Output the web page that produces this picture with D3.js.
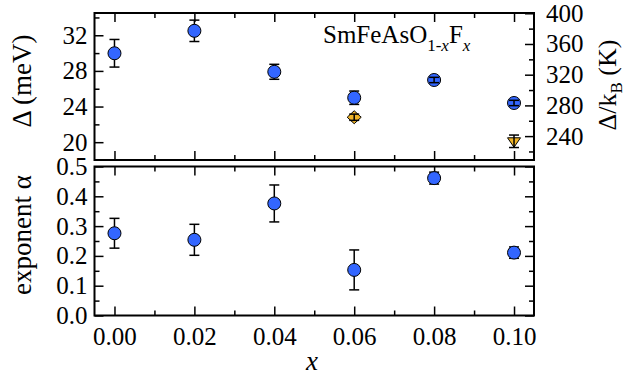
<!DOCTYPE html>
<html>
<head>
<meta charset="utf-8">
<script src="https://cdn.jsdelivr.net/npm/d3@7"></script>
<style>
  body { margin: 0; background: #fff; }
  svg text { font-family: "Liberation Serif", "Times New Roman", Times, serif !important; }
</style>
</head>
<body>
<svg id="chart" width="631" height="378"></svg>
<script>
// gap values (meV), first group: error bars behind markers
const gapX = [0, 0.02, 0.04, 0.06]
const gapMeV = [29.98, 32.5, 27.9, 24.99]
const gapErr = [1.55, 1.2, 0.84, 0.75]
// second group: error bars drawn over markers
const gap2X = [0.08, 0.10]
const gap2MeV = [26.98, 24.4]
const gap2Err = [0.3, 0.3]
// orange points
const diamondX = [0.06]
const diamondMeV = [22.8]
const diamondErr = [0.35]
const triX = [0.10]
const triMeV = [20.1]
const triErr = [0.7]
// exponent alpha
const alphaX = [0, 0.02, 0.04, 0.06, 0.08, 0.10]
const alpha = [0.276, 0.254, 0.376, 0.153, 0.461, 0.211]
const alphaErr = [0.05, 0.052, 0.062, 0.067, 0.02, 0.019]

const xMajor = [0, 0.02, 0.04, 0.06, 0.08, 0.10]
const xMinor = [0.01, 0.03, 0.05, 0.07, 0.09]
const meVMajor = [20, 24, 28, 32]
const meVMinor = [22, 26, 30, 34]
const kMajor = [240, 280, 320, 360, 400]
const kMinor = [220, 260, 300, 340, 380]
const alphaMajor = [0, 0.1, 0.2, 0.3, 0.4, 0.5]
const alphaMinor = [0.05, 0.15, 0.25, 0.35, 0.45]

const meVtoK = 11.6045
const BLUE = '#3366ff'
const GOLD = '#f0b428'
const MAJ = 9, MIN = 5
const FONT = '"Liberation Serif", "Times New Roman", serif'

const svg = d3.select('#chart').attr('font-family', FONT)
const left = 94.5, right = 534
const topT = 13, botT = 160
const topB = 166.5, botB = 315.5

const x = d3.scaleLinear().domain([-0.005, 0.105]).range([left, right])
const yT = d3.scaleLinear().domain([18, 34.5]).range([botT, topT])
const yK = d3.scaleLinear().domain([18 * meVtoK, 34.5 * meVtoK]).range([botT, topT])
const yB = d3.scaleLinear().domain([0, 0.5]).range([botB, topB])

function drawAxis(axis, tx, ty) {
  const g = svg.append('g')
    .attr('transform', 'translate(' + tx + ',' + ty + ')')
    .call(axis)
  g.select('.domain').remove()
  g.attr('font-family', FONT).attr('font-size', 25)
  g.selectAll('.tick line').attr('stroke-width', 1.5)
  g.selectAll('.tick text').attr('fill', '#000')
  return g
}
const none = () => ''

// top panel axes
drawAxis(d3.axisBottom(x).tickValues(xMajor).tickSize(-MAJ).tickFormat(none), 0, botT)
drawAxis(d3.axisBottom(x).tickValues(xMinor).tickSize(-MIN).tickFormat(none), 0, botT)
drawAxis(d3.axisTop(x).tickValues(xMajor).tickSize(-MAJ).tickFormat(none), 0, topT)
drawAxis(d3.axisTop(x).tickValues(xMinor).tickSize(-MIN).tickFormat(none), 0, topT)
drawAxis(d3.axisLeft(yT).tickValues(meVMajor).tickSize(-MAJ).tickPadding(7).tickFormat(d3.format('d')), left, 0)
drawAxis(d3.axisLeft(yT).tickValues(meVMinor).tickSize(-MIN).tickFormat(none), left, 0)
drawAxis(d3.axisRight(yK).tickValues(kMajor).tickSize(-MAJ).tickPadding(12).tickFormat(d3.format('d')), right, 0)
drawAxis(d3.axisRight(yK).tickValues(kMinor).tickSize(-MIN).tickFormat(none), right, 0)

// bottom panel axes
drawAxis(d3.axisBottom(x).tickValues(xMajor).tickSize(-MAJ).tickPadding(12).tickFormat(d3.format('.2f')), 0, botB)
drawAxis(d3.axisBottom(x).tickValues(xMinor).tickSize(-MIN).tickFormat(none), 0, botB)
drawAxis(d3.axisTop(x).tickValues(xMajor).tickSize(-MAJ).tickFormat(none), 0, topB)
drawAxis(d3.axisTop(x).tickValues(xMinor).tickSize(-MIN).tickFormat(none), 0, topB)
drawAxis(d3.axisLeft(yB).tickValues(alphaMajor).tickSize(-MAJ).tickPadding(7).tickFormat(d3.format('.1f')), left, 0)
drawAxis(d3.axisLeft(yB).tickValues(alphaMinor).tickSize(-MIN).tickFormat(none), left, 0)
drawAxis(d3.axisRight(yB).tickValues(alphaMajor).tickSize(-MAJ).tickFormat(none), right, 0)
drawAxis(d3.axisRight(yB).tickValues(alphaMinor).tickSize(-MIN).tickFormat(none), right, 0)

// frames
svg.append('rect').attr('x', left).attr('y', topT).attr('width', right - left).attr('height', botT - topT)
  .attr('fill', 'none').attr('stroke', '#000').attr('stroke-width', 2)
svg.append('rect').attr('x', left).attr('y', topB).attr('width', right - left).attr('height', botB - topB)
  .attr('fill', 'none').attr('stroke', '#000').attr('stroke-width', 2)

function errorBars(xs, ys, es, yScale) {
  const g = svg.append('g').attr('stroke', '#000').attr('stroke-width', 1.5)
  xs.forEach((d, i) => {
    const cx = x(d), y1 = yScale(ys[i] + es[i]), y2 = yScale(ys[i] - es[i])
    g.append('line').attr('x1', cx).attr('x2', cx).attr('y1', y1).attr('y2', y2)
    g.append('line').attr('x1', cx - 5).attr('x2', cx + 5).attr('y1', y1).attr('y2', y1)
    g.append('line').attr('x1', cx - 5).attr('x2', cx + 5).attr('y1', y2).attr('y2', y2)
  })
}
function circles(xs, ys, yScale) {
  svg.append('g').selectAll('circle').data(xs).join('circle')
    .attr('cx', d => x(d)).attr('cy', (d, i) => yScale(ys[i])).attr('r', 6.5)
    .attr('fill', BLUE).attr('stroke', '#000').attr('stroke-width', 1)
}

// top panel data
errorBars(gapX, gapMeV, gapErr, yT)
circles(gapX, gapMeV, yT)
circles(gap2X, gap2MeV, yT)
errorBars(gap2X, gap2MeV, gap2Err, yT)

svg.append('g').selectAll('path').data(diamondX).join('path')
  .attr('d', (d, i) => {
    const cx = x(d), cy = yT(diamondMeV[i]), w = 7, h = 6.5
    return `M${cx},${cy - h}L${cx + w},${cy}L${cx},${cy + h}L${cx - w},${cy}Z`
  })
  .attr('fill', GOLD).attr('stroke', '#000').attr('stroke-width', 1)
errorBars(diamondX, diamondMeV, diamondErr, yT)

svg.append('g').selectAll('path').data(triX).join('path')
  .attr('d', (d, i) => {
    const cx = x(d), cy = yT(triMeV[i]), w = 6.5
    return `M${cx - w},${cy - 3.5}L${cx + w},${cy - 3.5}L${cx},${cy + 6}Z`
  })
  .attr('fill', GOLD).attr('stroke', '#000').attr('stroke-width', 1)
errorBars(triX, triMeV, triErr, yT)

// bottom panel data
errorBars(alphaX, alpha, alphaErr, yB)
circles(alphaX, alpha, yB)

// labels
svg.append('text').attr('transform', 'translate(31,81) rotate(-90)')
  .attr('text-anchor', 'middle').attr('font-size', 27).text('Δ (meV)')
svg.append('text').attr('transform', 'translate(31,235) rotate(-90)')
  .attr('text-anchor', 'middle').attr('font-size', 27).text('exponent α')
const rt = svg.append('text').attr('transform', 'translate(616,85) rotate(-90)')
  .attr('text-anchor', 'middle').attr('font-size', 26)
rt.append('tspan').text('Δ/k')
rt.append('tspan').attr('font-size', 17).attr('dy', 6).text('B')
rt.append('tspan').attr('dy', -6).text(' (K)')
svg.append('text').attr('x', 312).attr('y', 370).attr('text-anchor', 'middle')
  .attr('font-size', 27).attr('font-style', 'italic').text('x')

const ann = svg.append('text').attr('x', 323).attr('y', 43).attr('font-size', 25)
ann.append('tspan').text('SmFeAsO')
ann.append('tspan').attr('font-size', 17).attr('dy', 8).text('1-')
ann.append('tspan').attr('font-size', 17).attr('font-style', 'italic').text('x')
ann.append('tspan').attr('dy', -8).text('F')
ann.append('tspan').attr('font-size', 17).attr('font-style', 'italic').attr('dy', 8).text('x')
</script>
</body>
</html>
